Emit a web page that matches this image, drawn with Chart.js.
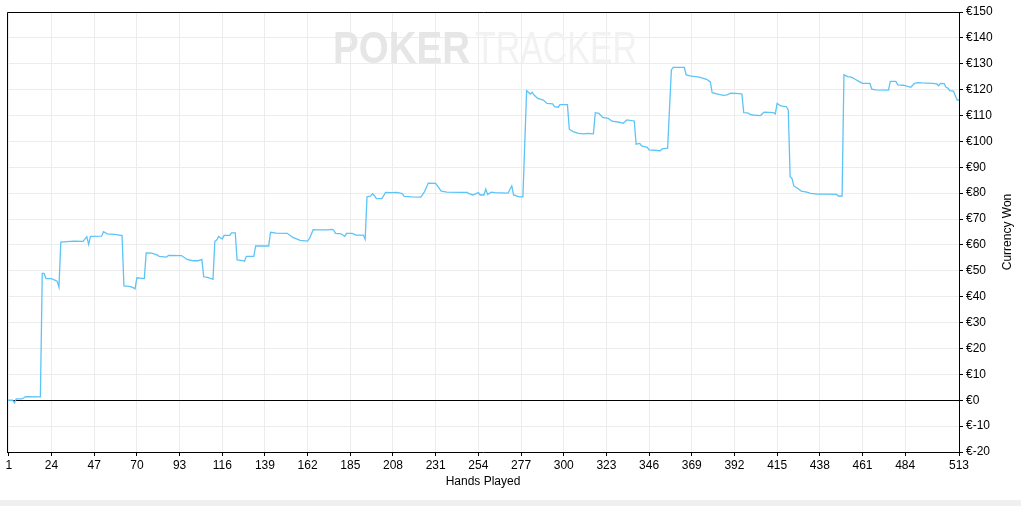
<!DOCTYPE html>
<html>
<head>
<meta charset="utf-8">
<script src="https://cdn.jsdelivr.net/npm/chart.js@4/dist/chart.umd.min.js"></script>
<style>
  html, body { margin: 0; padding: 0; background: #f0f0f0; width: 1021px; height: 506px; overflow: hidden; }
  #graph { display: block; background: #fff; }
</style>
</head>
<body>
<canvas id="graph" width="1021" height="500"></canvas>
<script>
// hands played (x) and cumulative currency won (y)
const hands = [0, 3, 4, 5, 8, 10, 18, 19, 20, 21, 24, 27, 28, 29, 36, 41, 43, 44, 45, 51,
  52, 54, 58, 62, 63, 66, 68, 69, 70, 74, 75, 78, 81, 82, 86, 87, 94, 97, 100, 103,
  105, 106, 108, 110, 111, 112, 113, 114, 116, 117, 120, 121, 123, 124, 127, 128, 129, 133, 134, 141,
  142, 145, 151, 154, 158, 162, 163, 165, 167, 173, 175, 176, 177, 180, 182, 183, 186, 188, 192, 193,
  194, 196, 197, 198, 199, 202, 204, 207, 210, 213, 214, 218, 223, 225, 227, 231, 234, 237, 245, 248,
  249, 251, 254, 255, 257, 258, 259, 261, 263, 270, 272, 273, 276, 278, 280, 282, 283, 284, 286, 289,
  291, 294, 295, 297, 298, 302, 303, 305, 308, 311, 313, 316, 317, 319, 321, 324, 326, 330, 332, 334,
  338, 339, 341, 342, 345, 346, 352, 353, 356, 358, 359, 365, 366, 368, 371, 373, 377, 379, 380, 383,
  386, 388, 390, 395, 396, 397, 399, 401, 403, 406, 408, 413, 414, 415, 417, 420, 421, 422, 423, 424,
  426, 428, 431, 433, 437, 442, 447, 448, 450, 451, 453, 455, 457, 459, 461, 465, 466, 468, 475, 476,
  479, 480, 483, 487, 489, 491, 493, 499, 501, 502, 503, 505, 506, 507, 508, 510, 512, 513];
const won = [0, 0, -1, 0.5, 0.5, 1.4, 1.3, 49, 49, 47, 47, 46, 43.7, 61.1, 61.5, 61.4, 63.2, 60.2, 63.3, 63.4,
  65.1, 64.3, 64.1, 63.6, 44.2, 44, 43.5, 43, 47.3, 47, 56.9, 56.8, 56.1, 55.6, 55.3, 56, 55.9, 54.4, 53.9, 53.9,
  54.4, 47.7, 47.5, 47, 46.7, 61.4, 61.9, 63.3, 62.3, 63.7, 63.7, 64.7, 64.7, 54.2, 53.9, 53.7, 55.6, 55.6, 59.6, 59.6,
  64.9, 64.6, 64.5, 62.9, 61.8, 61.5, 62.5, 65.9, 65.8, 65.8, 66, 65.8, 64.5, 64.3, 63.3, 64.5, 64.5, 63.8, 63.8, 62.2,
  78.6, 78.9, 79.8, 79, 77.9, 77.9, 80.3, 80.2, 80.3, 79.8, 78.8, 78.6, 78.5, 80.6, 83.9, 83.8, 80.8, 80.4, 80.3, 80.3,
  79.8, 79.3, 80.2, 79.3, 79.3, 81.6, 79.5, 80.4, 80.2, 80, 82.8, 79.3, 78.6, 78.6, 119.6, 118.3, 119, 117.9, 116.6, 116,
  114.7, 114.5, 113.4, 113.2, 114.2, 114.2, 104.7, 103.8, 103.1, 102.9, 103.1, 102.9, 111.1, 110.8, 109.3, 108.9, 107.8, 107.4, 107, 108.3,
  107.9, 98.9, 99.2, 98.3, 97.7, 96.7, 96.4, 97.1, 97.4, 127.6, 128.6, 128.6, 125.7, 125.3, 125, 124.8, 124, 123, 118.8, 118.3,
  117.8, 118, 118.6, 118.5, 118.3, 111.1, 111, 110.3, 110.1, 110, 111.3, 111.1, 110.6, 114.7, 113.7, 113.4, 112.1, 86.4, 85.7, 82.8,
  81.9, 80.8, 80.4, 79.9, 79.6, 79.6, 79.5, 78.9, 78.9, 125.7, 125, 124.8, 124, 123.2, 122.4, 122.4, 120.2, 119.9, 119.8, 123.2,
  123.2, 121.8, 121.7, 120.9, 122.4, 122.7, 122.6, 122.4, 122.2, 121.5, 122.4, 122.3, 120.9, 120.6, 119.6, 119.4, 116, 116];

const xTicks = [1, 24, 47, 70, 93, 116, 139, 162, 185, 208, 231, 254, 277, 300, 323, 346, 369, 392, 415, 438, 461, 484, 513];
const yMin = -20, yMax = 150, yStep = 10;

const labelFont = { family: "'Liberation Sans', Arial, sans-serif", size: 12 };

// frame on the left/top, watermark and the y axis title
const extras = {
  id: 'extras',
  beforeDatasetsDraw(chart) {
    const { ctx, chartArea: a } = chart;
    ctx.save();
    ctx.textBaseline = 'alphabetic';
    const base = 63, size = 45;
    ctx.font = "bold " + size + "px 'Liberation Sans', Arial, sans-serif";
    let w = ctx.measureText('POKER').width;
    ctx.fillStyle = '#e6e6e6';
    ctx.save();
    ctx.translate(333, base);
    ctx.scale(137 / w, 1);
    ctx.fillText('POKER', 0, 0);
    ctx.restore();
    ctx.font = size + "px 'Liberation Sans', Arial, sans-serif";
    w = ctx.measureText('TRACKER').width;
    ctx.fillStyle = '#f2f2f2';
    ctx.save();
    ctx.translate(475, base);
    ctx.scale(162 / w, 1);
    ctx.fillText('TRACKER', 0, 0);
    ctx.restore();
    ctx.restore();
  },
  afterDraw(chart) {
    const { ctx, chartArea: a } = chart;
    ctx.save();
    ctx.strokeStyle = '#000';
    ctx.lineWidth = 1;
    ctx.beginPath();
    ctx.moveTo(Math.round(a.left) + 0.5, Math.round(a.bottom));
    ctx.lineTo(Math.round(a.left) + 0.5, Math.round(a.top) + 0.5);
    ctx.lineTo(Math.round(a.right), Math.round(a.top) + 0.5);
    ctx.stroke();
    ctx.translate(1008, (a.top + a.bottom) / 2);
    ctx.rotate(-Math.PI / 2);
    ctx.font = "12px 'Liberation Sans', Arial, sans-serif";
    ctx.fillStyle = '#000';
    ctx.textAlign = 'center';
    ctx.textBaseline = 'middle';
    ctx.fillText('Currency Won', 0, 0);
    ctx.restore();
  }
};

new Chart(document.getElementById('graph'), {
  type: 'line',
  data: {
    datasets: [{
      data: hands.map((h, i) => ({ x: h, y: won[i] })),
      borderColor: '#5cc4f7',
      borderWidth: 1.3,
      pointRadius: 0,
      tension: 0,
      fill: false
    }]
  },
  options: {
    responsive: false,
    animation: false,
    layout: { padding: { left: 7, top: 12, right: 0, bottom: 0 } },
    plugins: { legend: { display: false }, tooltip: { enabled: false } },
    scales: {
      x: {
        type: 'linear',
        position: 'bottom',
        min: 0,
        max: 513,
        afterBuildTicks: s => { s.ticks = xTicks.map(v => ({ value: v })); },
        afterFit: s => { s.height = 48; },
        ticks: { autoSkip: false, maxRotation: 0, color: '#000', font: labelFont, padding: 2 },
        grid: { color: '#ececec', tickColor: '#000', tickLength: 4 },
        border: { color: '#000', width: 1 },
        title: { display: true, text: 'Hands Played', color: '#000', font: labelFont, padding: { top: 0, bottom: 11 } }
      },
      y: {
        position: 'right',
        min: yMin,
        max: yMax,
        afterFit: s => { s.width = 62; },
        ticks: { stepSize: yStep, color: '#000', font: labelFont, padding: 3, callback: v => '€' + v },
        grid: { color: c => (c.tick && c.tick.value === 0 ? '#000' : '#ececec'), tickColor: '#000', tickLength: 4 },
        border: { color: '#000', width: 1 }
      }
    }
  },
  plugins: [extras]
});
</script>
</body>
</html>
